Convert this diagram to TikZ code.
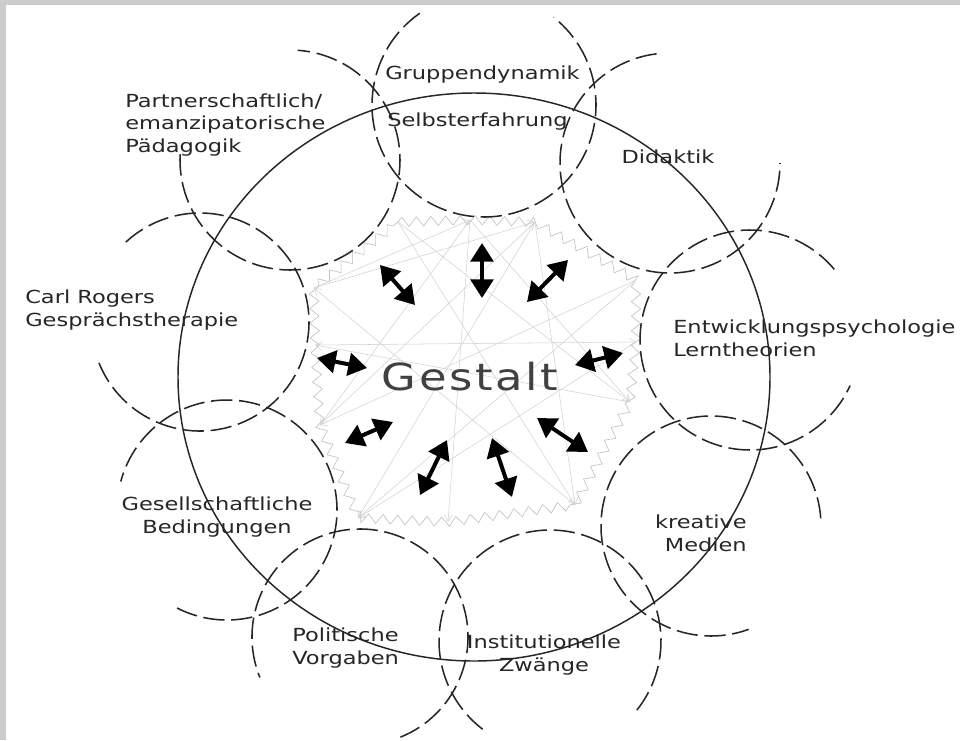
\documentclass[tikz,border=0pt]{standalone}
\usepackage{fontspec}
\newfontfamily\cadfont[FakeStretch=1.25]{DejaVu Sans}
\newfontfamily\gestaltfont[FakeStretch=1.2,LetterSpace=7]{DejaVu Sans}
\usepackage{tikz}
\usetikzlibrary{arrows.meta, decorations.pathmorphing}

\begin{document}
\begin{tikzpicture}[
    x=0.75pt, y=0.75pt,
    ring/.style={dash pattern=on 16pt off 5pt, line width=1.15pt, black!85},
    bigring/.style={line width=1.1pt, black!85},
    dblarr/.style={{Triangle[length=14pt, width=17pt]}-{Triangle[length=14pt, width=17pt]},
                   line width=3pt},
    web/.style={gray!35, line width=0.4pt, -{Straight Barb[length=5pt, width=6pt]}},
    webedge/.style={gray!50, line width=0.45pt, decorate,
                    decoration={zigzag, segment length=11pt, amplitude=3.5pt}},
    lab/.style={font=\cadfont\fontsize{13.5}{17}\selectfont, text=black!85, inner sep=0pt}
  ]
    \useasboundingbox (0,0) rectangle (960,-740);
    \fill[gray!40] (0,0) rectangle (960,-740);
    \fill[white] (6,-5) rectangle (960,-740);

    % the web inside
    \coordinate (w1) at (398,-222);
    \coordinate (w2) at (470,-220);
    \coordinate (w3) at (535,-222);
    \coordinate (w4) at (636,-280);
    \coordinate (w5) at (636,-342);
    \coordinate (w6) at (630,-402);
    \coordinate (w7) at (575,-505);
    \coordinate (w8) at (448,-522);
    \coordinate (w9) at (358,-518);
    \coordinate (w10) at (320,-425);
    \coordinate (w11) at (315,-345);
    \coordinate (w12) at (314,-288);
    \draw[webedge] (w1) -- (w2) -- (w3) -- (w4) -- (w5) -- (w6) -- (w7)
      -- (w8) -- (w9) -- (w10) -- (w11) -- (w12) -- cycle;
    \draw[web] (w12) -- (w2);
    \draw[web] (w12) -- (w3);
    \draw[web] (w11) -- (w5);
    \draw[web] (w2) -- (w10);
    \draw[web] (w2) -- (w6);
    \draw[web] (w2) -- (w8);
    \draw[web] (w3) -- (w9);
    \draw[web] (w3) -- (w7);
    \draw[web] (w1) -- (w7);
    \draw[web] (w1) -- (w6);
    \draw[web] (w4) -- (w10);
    \draw[web] (w4) -- (w9);
    \draw[web] (w5) -- (w9);
    \draw[web] (w6) -- (w11);
    \draw[web] (w7) -- (w12);
    \draw[web] (w10) -- (w3);

    % big circle
    \coordinate (mid) at (474,-377);
    \draw[bigring] (mid) ellipse [x radius=296, y radius=284];

    % dashed circles
    \coordinate (grupp) at (484,-105);
    \coordinate (didak) at (670,-163);
    \coordinate (entw) at (750,-340);
    \coordinate (kreat) at (711,-526);
    \coordinate (instit) at (550,-641);
    \coordinate (polit) at (360,-637);
    \coordinate (gesell) at (227,-510);
    \coordinate (rogers) at (200,-322);
    \coordinate (partner) at (290,-160);
    \draw[ring] (grupp) ++(125:112) arc[start angle=125, end angle=411.6, radius=112];
    \draw[ring] (didak) ++(97:110) arc[start angle=97, end angle=360, radius=110];
    \draw[ring] (entw) ++(40:110) arc[start angle=40, end angle=335.5, radius=110];
    \draw[ring] (kreat) ++(4:110) arc[start angle=4, end angle=290, radius=110];
    \draw[ring] (instit) ++(-38.5:111) arc[start angle=-38.5, end angle=235.6, radius=111];
    \draw[ring] (polit) ++(-68:108) arc[start angle=-68, end angle=202, radius=108];
    \draw[ring] (gesell) ++(-117:110) arc[start angle=-117, end angle=165, radius=110];
    \draw[ring] (rogers) ++(202:109) arc[start angle=202, end angle=495, radius=109];
    \draw[ring] (partner) ++(177:110) arc[start angle=177, end angle=446, radius=110];

    % arrows out of the centre
    \coordinate (a1in) at (415,-305);  \coordinate (a1out) at (380,-265);
    \coordinate (a2in) at (482,-298);  \coordinate (a2out) at (482,-243);
    \coordinate (a3in) at (527,-302);  \coordinate (a3out) at (568,-260);
    \coordinate (a4in) at (367,-368);  \coordinate (a4out) at (317,-358);
    \coordinate (a5in) at (575,-365);  \coordinate (a5out) at (623,-353);
    \coordinate (a6in) at (393,-422);  \coordinate (a6out) at (345,-443);
    \coordinate (a7in) at (447,-440);  \coordinate (a7out) at (420,-495);
    \coordinate (a8in) at (492,-438);  \coordinate (a8out) at (512,-497);
    \coordinate (a9in) at (537,-418);  \coordinate (a9out) at (588,-452);
    \draw[dblarr] (a1in) -- (a1out);
    \draw[dblarr] (a2in) -- (a2out);
    \draw[dblarr] (a3in) -- (a3out);
    \draw[dblarr] (a4in) -- (a4out);
    \draw[dblarr] (a5in) -- (a5out);
    \draw[dblarr] (a6in) -- (a6out);
    \draw[dblarr] (a7in) -- (a7out);
    \draw[dblarr] (a8in) -- (a8out);
    \draw[dblarr] (a9in) -- (a9out);

    \node[font=\gestaltfont\fontsize{28}{30}\selectfont, text=black!75, inner sep=0pt]
      (gestalt) at (470,-377) {Gestalt};

    % labels
    \node[lab, anchor=west] (grupptxt) at (385,-75) {Gruppendynamik};
    \node[lab, anchor=west] (selbsttxt) at (387,-122) {Selbsterfahrung};
    \node[lab, anchor=west, align=left] (partnertxt) at (125,-125)
      {Partnerschaftlich/\\emanzipatorische\\Pädagogik};
    \node[lab] (didaktxt) at (668,-157) {Didaktik};
    \node[lab, anchor=west, align=left] (rogerstxt) at (25,-310)
      {Carl Rogers\\Gesprächstherapie};
    \node[lab, anchor=west, align=left] (entwtxt) at (673,-338)
      {Entwicklungspsychologie\\Lerntheorien};
    \node[lab, anchor=east, align=right] (kreattxt) at (747,-533)
      {kreative\\Medien};
    \node[lab, align=center] (geselltxt) at (217,-517)
      {Gesellschaftliche\\Bedingungen};
    \node[lab, anchor=west, align=left] (polittxt) at (292,-648)
      {Politische\\Vorgaben};
    \node[lab, align=center] (instittxt) at (544,-655)
      {Institutionelle\\Zwänge};
  \end{tikzpicture}
\end{document}
